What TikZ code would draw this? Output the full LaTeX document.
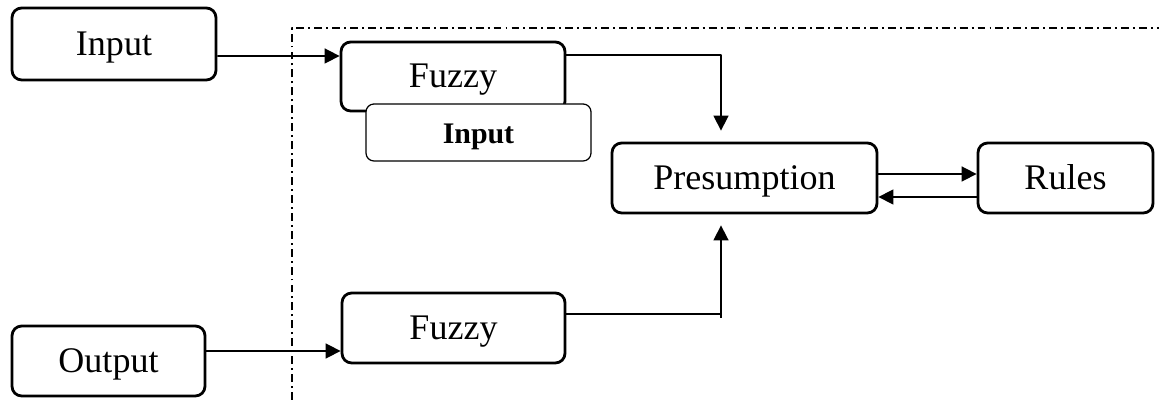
\documentclass[tikz,border=0pt]{standalone}
\usepackage{fontspec}
\setmainfont{Liberation Serif}
\usetikzlibrary{arrows.meta}
\begin{document}
\begin{tikzpicture}[line join=round, >={Triangle[length=8.5pt,width=8.5pt]},
    font=\fontsize{20.5}{24}\selectfont,
    box/.style={draw, line width=1.6pt, rounded corners=5.5pt, fill=white, inner sep=0pt,
        text height=16.5pt, text depth=3.5pt},
    subbox/.style={draw, line width=0.7pt, rounded corners=4.5pt, fill=white, inner sep=0pt,
        text height=15pt, text depth=2pt},
    arr/.style={->, line width=0.9pt},
    frame/.style={line width=0.8pt, dash pattern=on 4.5pt off 2.3pt on 1.1pt off 2.3pt}]
    \useasboundingbox (0,0) rectangle (23.18,8);
    % frame
    \draw[frame] (5.84,0) -- (5.84,7.44) -- (23.18,7.44);
    % boxes
    \node[box, minimum width=4.08cm, minimum height=1.44cm] (in) at (2.28,7.12) {Input};
    \node[box, minimum width=3.86cm, minimum height=1.4cm] (out) at (2.17,0.78) {Output};
    \node[box, minimum width=4.48cm, minimum height=1.38cm] (fz1) at (9.06,6.47) {Fuzzy};
    \node[subbox, minimum width=4.5cm, minimum height=1.14cm, font=\fontsize{17}{20}\selectfont\bfseries] (fzin) at (9.57,5.35) {Input};
    \node[box, minimum width=4.46cm, minimum height=1.4cm] (fz2) at (9.07,1.44) {Fuzzy};
    \node[box, minimum width=5.3cm, minimum height=1.4cm] (pre) at (14.89,4.44) {Presumption};
    \node[box, minimum width=3.5cm, minimum height=1.4cm] (ru) at (21.31,4.44) {Rules};
    \coordinate (kn) at (14.42,1.64);
    % connectors
    \draw[arr] ([yshift=-0.24cm]in.east) -- ([yshift=0.41cm]fz1.west);
    \draw[arr] ([yshift=0.20cm]out.east) -- ([yshift=-0.46cm]fz2.west);
    \draw[arr] ([yshift=0.43cm]fz1.east) -| ([xshift=-0.47cm,yshift=0.22cm]pre.north);
    \draw[line width=0.9pt] ([yshift=0.28cm]fz2.east) -- ([yshift=0.28cm]fz2.east -| kn);
    \draw[arr] (kn) -- ([xshift=-0.47cm,yshift=-0.22cm]pre.south);
    \draw[arr] ([yshift=0.08cm]pre.east) -- ([yshift=0.08cm]ru.west);
    \draw[arr] ([yshift=-0.38cm]ru.west) -- ([yshift=-0.38cm]pre.east);
\end{tikzpicture}
\end{document}
